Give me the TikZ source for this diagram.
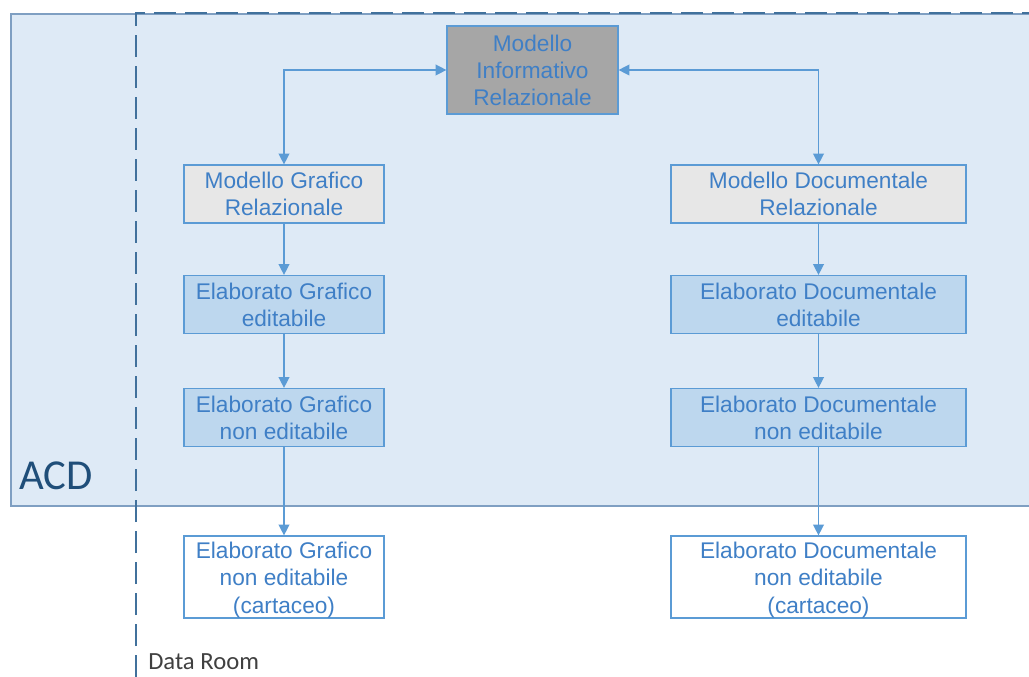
\documentclass[tikz,border=0pt]{standalone}
\usepackage{fontspec}
\setmainfont{Liberation Sans}
\newfontfamily\arialf{Liberation Sans}
\newfontfamily\carl{Carlito}
\usetikzlibrary{arrows.meta}
\definecolor{acdfill}{HTML}{DEEAF6}
\definecolor{acdline}{HTML}{7F9FC2}
\definecolor{dashc}{HTML}{41719C}
\definecolor{boxline}{HTML}{5B9BD5}
\definecolor{txtc}{HTML}{3F7FC6}
\definecolor{grayfill}{HTML}{A6A6A6}
\definecolor{lgray}{HTML}{E7E7E7}
\definecolor{lblue}{HTML}{BDD7EE}
\definecolor{acdtxt}{HTML}{1F4E79}
\tikzset{
  box/.style={draw=boxline, line width=0.9pt, text=txtc, align=center,
    font=\arialf\fontsize{17}{20.3}\selectfont, inner sep=0pt},
  lw/.style={box, minimum width=150pt, minimum height=43.5pt},
  rw/.style={box, minimum width=221.25pt, minimum height=43.5pt},
  arr/.style={draw=boxline, line width=1pt, -{Triangle[length=8pt,width=8pt]}},
  barr/.style={draw=boxline, line width=1pt, {Triangle[length=8pt,width=8pt]}-{Triangle[length=8pt,width=8pt]}}
}
\begin{document}
\begin{tikzpicture}[x=0.75pt,y=-0.75pt]
\useasboundingbox (0,0) rectangle (1029,677);
\fill[white] (0,0) rectangle (1029,677);
% ACD area
\draw[fill=acdfill, draw=acdline, line width=1pt] (11,14) rectangle (1035,506);
\node[anchor=south west, inner sep=0pt, text=acdtxt, font=\carl\fontsize{32}{32}\selectfont] (acd) at (19,490) {ACD};
% Data Room dashed boundary
\draw[dashc, line width=1.6pt, dash pattern=on 16.5pt off 6.75pt] (136,677) -- (136,13) -- (1035,13);
\node[anchor=base west, inner sep=0pt, text=black!75, font=\carl\fontsize{18.5}{18.5}\selectfont] (dr) at (148,669) {Data Room};
% nodes
\node[box, fill=grayfill, minimum width=128.25pt, minimum height=66pt] (mir) at (532.5,70) {Modello\\Informativo\\Relazionale};
\node[lw, fill=lgray] (mgr) at (284,194) {Modello Grafico\\Relazionale};
\node[rw, fill=lgray] (mdr) at (818.5,194) {Modello Documentale\\Relazionale};
\node[lw, fill=lblue] (ege) at (284,304.5) {Elaborato Grafico\\editabile};
\node[rw, fill=lblue] (ede) at (818.5,304.5) {Elaborato Documentale\\editabile};
\node[lw, fill=lblue] (egn) at (284,417.5) {Elaborato Grafico\\non editabile};
\node[rw, fill=lblue] (edn) at (818.5,417.5) {Elaborato Documentale\\non editabile};
\node[lw, fill=white, minimum height=61.5pt] (egc) at (284,577) {\rule{0pt}{17pt}Elaborato Grafico\\non editabile\\(cartaceo)};
\node[rw, fill=white, minimum height=61.5pt] (edc) at (818.5,577) {\rule{0pt}{17pt}Elaborato Documentale\\non editabile\\(cartaceo)};
% connectors
\draw[barr] (mir.west) -| (mgr.north);
\draw[barr] (mir.east) -| (mdr.north);
\draw[arr] (mgr) -- (ege);
\draw[arr] (ege) -- (egn);
\draw[arr] (egn) -- (egc);
\draw[arr] (mdr) -- (ede);
\draw[arr] (ede) -- (edn);
\draw[arr] (edn) -- (edc);
\end{tikzpicture}
\end{document}
